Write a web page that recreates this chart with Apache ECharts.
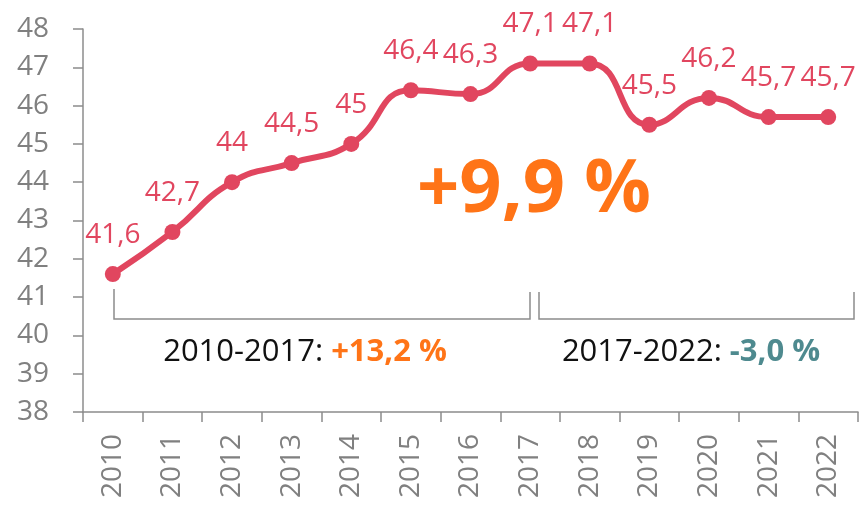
<!DOCTYPE html>
<html>
<head>
<meta charset="utf-8">
<script src="https://cdn.jsdelivr.net/npm/echarts@6/dist/echarts.min.js"></script>
<style>
  html, body { margin: 0; padding: 0; background: #fff; }
  #chart { width: 861px; height: 505px; }
</style>
</head>
<body>
<div id="chart"></div>
<script>
const years = ['2010', '2011', '2012', '2013', '2014', '2015', '2016', '2017', '2018', '2019', '2020', '2021', '2022']
const values = [41.6, 42.7, 44, 44.5, 45, 46.4, 46.3, 47.1, 47.1, 45.5, 46.2, 45.7, 45.7]
const yTicks = [38, 39, 40, 41, 42, 43, 44, 45, 46, 47, 48]

const totalChange = '+9,9 %'
const period1 = ['2010-2017: ', '+13,2 %']
const period2 = ['2017-2022: ', '-3,0 %']

const lineColor = '#e1465f'
const gray = '#808080'
const font = 'Open Sans'

const chart = echarts.init(document.getElementById('chart'))

chart.setOption({
  animation: false,
  grid: { left: 83, right: 3, top: 29, bottom: 93 },
  xAxis: {
    type: 'category',
    data: years,
    boundaryGap: true,
    axisLine: { lineStyle: { color: '#8c8c8c', width: 1.5 } },
    axisTick: { show: true, length: 10, alignWithLabel: false, lineStyle: { color: '#8c8c8c', width: 1.5 } },
    axisLabel: { rotate: 90, margin: 22, color: gray, fontSize: 28, fontFamily: font }
  },
  yAxis: {
    type: 'value',
    min: yTicks[0],
    max: yTicks[yTicks.length - 1],
    interval: 1,
    splitLine: { show: false },
    axisLine: { show: true, lineStyle: { color: '#8c8c8c', width: 1.5 } },
    axisTick: { show: true, length: 10, lineStyle: { color: '#8c8c8c', width: 1.5 } },
    axisLabel: { margin: 34, color: gray, fontSize: 28, fontFamily: font }
  },
  series: [
    {
      type: 'line',
      data: values,
      smooth: 0.5,
      symbol: 'circle',
      symbolSize: 16,
      itemStyle: { color: lineColor },
      lineStyle: { color: lineColor, width: 6 },
      label: {
        show: true,
        position: 'top',
        distance: 17,
        color: lineColor,
        fontSize: 28,
        fontFamily: font,
        formatter: p => String(p.value).replace('.', ',')
      },
      labelLayout: { hideOverlap: false }
    }
  ],
  // brackets and annotations
  graphic: [
    {
      type: 'polyline',
      shape: { points: [[114, 289], [114, 319], [530, 319], [530, 292]] },
      style: { stroke: '#8c8c8c', lineWidth: 1.5, fill: null }
    },
    {
      type: 'polyline',
      shape: { points: [[539, 292], [539, 319], [854, 319], [854, 292]] },
      style: { stroke: '#8c8c8c', lineWidth: 1.5, fill: null }
    },
    {
      type: 'text',
      x: 305, y: 352,
      style: {
        text: '{a|' + period1[0] + '}{b|' + period1[1] + '}',
        align: 'center', verticalAlign: 'middle',
        rich: {
          a: { fontSize: 31, fontFamily: font, fill: '#111' },
          b: { fontSize: 31, fontFamily: font, fontWeight: 'bold', fill: '#ff7417' }
        }
      }
    },
    {
      type: 'text',
      x: 691, y: 352,
      style: {
        text: '{a|' + period2[0] + '}{b|' + period2[1] + '}',
        align: 'center', verticalAlign: 'middle',
        rich: {
          a: { fontSize: 31, fontFamily: font, fill: '#111' },
          b: { fontSize: 31, fontFamily: font, fontWeight: 'bold', fill: '#4e8a8f' }
        }
      }
    },
    {
      type: 'text',
      x: 534, y: 191,
      style: {
        text: totalChange,
        align: 'center', verticalAlign: 'middle',
        fontSize: 74, fontFamily: font, fontWeight: 'bold', fill: '#ff7417'
      }
    }
  ]
})
</script>
</body>
</html>
